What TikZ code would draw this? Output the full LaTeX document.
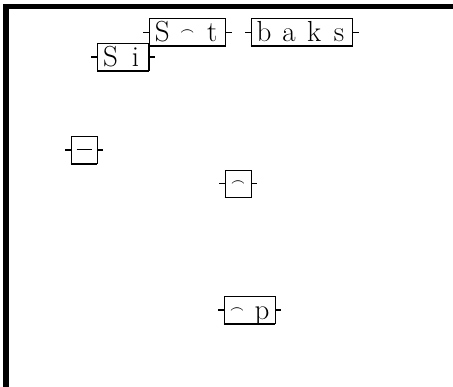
\documentclass[tikz,border=0pt]{standalone}
\usetikzlibrary{positioning}

\newcommand{\cell}[1]{\makebox[25pt]{#1}}
\newcommand{\arcsym}{\raisebox{7pt}{\fontsize{12}{12}\selectfont\boldmath$\frown$}}

\begin{document}
\begin{tikzpicture}[x=1pt,y=-1pt,node distance=25pt]
  \tikzstyle{gate}=[draw,line width=0.8pt,inner xsep=0.5pt,inner ysep=0pt,
    text height=23pt,text depth=4pt,font=\fontsize{29}{29}\selectfont,
    append after command={
      (\tikzlastnode.west) edge[line width=1.3pt] ++(-6pt,0)
      (\tikzlastnode.east) edge[line width=1.3pt] ++(6pt,0)
      (\tikzlastnode.south west) edge[line width=1.5pt] (\tikzlastnode.south east)
      (\tikzlastnode.south east) edge[line width=1.5pt] (\tikzlastnode.north east)}]
  \useasboundingbox (0,0) rectangle (453,387);
  \draw[line width=5.5pt] (5.75,387) -- (5.75,6.5) -- (453,6.5);
  \node[gate] (si) at (123,57) {\cell{S}\cell{i}};
  \node[gate,above right=-3pt and 0pt of si.north east] (st) {\cell{S}\cell{\arcsym}\cell{t}};
  \node[gate,right=of st] (baks) {\cell{b}\cell{a}\cell{k}\cell{s}};
  \node[gate] (dash) at (84,150) {\cell{\rule[9pt]{15pt}{1.6pt}}};
  \node[gate] (hat) at (238,183.5) {\cell{\arcsym}};
  \node[gate] (tp) at (249.5,310) {\cell{\arcsym}\cell{p}};
\end{tikzpicture}
\end{document}
